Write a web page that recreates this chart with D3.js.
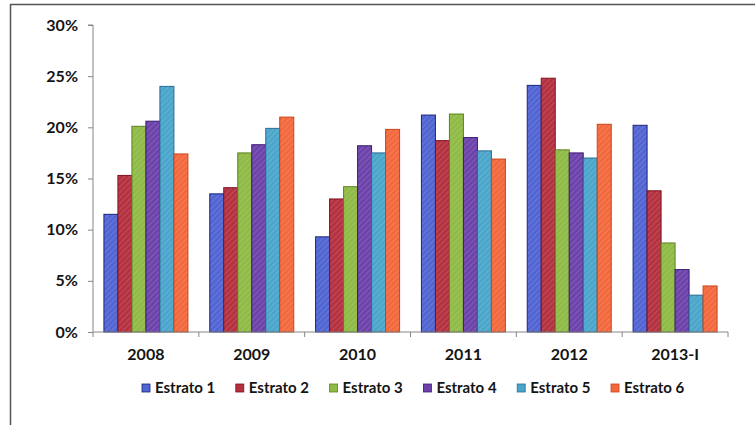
<!DOCTYPE html>
<html>
<head>
<meta charset="utf-8">
<script src="https://cdn.jsdelivr.net/npm/d3@7"></script>
<style>
  body { margin: 0; background: #fff; }
  svg { display: block; font-family: Lato, "Open Sans", sans-serif; font-weight: bold; }
</style>
</head>
<body>
<script>
var width = 755, height = 425;

var years = ["2008", "2009", "2010", "2011", "2012", "2013-I"];
var series = ["Estrato 1", "Estrato 2", "Estrato 3", "Estrato 4", "Estrato 5", "Estrato 6"];
var estrato1 = [11.5, 13.5, 9.3, 21.2, 24.1, 20.2];
var estrato2 = [15.3, 14.1, 13.0, 18.7, 24.8, 13.8];
var estrato3 = [20.1, 17.5, 14.2, 21.3, 17.8, 8.7];
var estrato4 = [20.6, 18.3, 18.2, 19.0, 17.5, 6.1];
var estrato5 = [24.0, 19.9, 17.5, 17.7, 17.0, 3.6];
var estrato6 = [17.4, 21.0, 19.8, 16.9, 20.3, 4.5];
var yTicks = [0, 5, 10, 15, 20, 25, 30];

var values = [estrato1, estrato2, estrato3, estrato4, estrato5, estrato6];
var fills = ["#5064d2", "#b4303f", "#8fba45", "#6c42aa", "#4aa5cb", "#f2683c"];
var strokes = ["#1c2478", "#7c1222", "#5e8020", "#3a1c72", "#2a6c92", "#c8451a"];

var svg = d3.select("body").append("svg")
    .attr("width", width)
    .attr("height", height);

// diagonal hatch like the original fill texture
var defs = svg.append("defs");
fills.forEach(function (c, i) {
    var p = defs.append("pattern")
        .attr("id", "hatch" + i)
        .attr("patternUnits", "userSpaceOnUse")
        .attr("width", 4).attr("height", 4)
        .attr("patternTransform", "rotate(-45)");
    p.append("rect").attr("width", 4).attr("height", 4).attr("fill", c);
    p.append("rect").attr("width", 4).attr("height", 1.3)
        .attr("fill", "#fff").attr("opacity", 0.13);
});

// frame
svg.append("line").attr("x1", 10).attr("x2", width).attr("y1", 4.5).attr("y2", 4.5)
    .attr("stroke", "#555").attr("stroke-width", 1.5);
svg.append("line").attr("x1", 10.5).attr("x2", 10.5).attr("y1", 4).attr("y2", height)
    .attr("stroke", "#555").attr("stroke-width", 1.5);

var margin = {left: 93, right: 27, top: 25, bottom: 93};
var x = d3.scaleBand().domain(years).range([margin.left, width - margin.right]);
var xs = d3.scaleBand().domain(series).range([0, x.bandwidth()])
    .paddingInner(0).paddingOuter(0.78);
var y = d3.scaleLinear().domain([0, 30]).range([height - margin.bottom, margin.top]);

// bars
var g = svg.append("g");
years.forEach(function (yr, gi) {
    series.forEach(function (s, si) {
        var v = values[si][gi];
        g.append("rect")
            .attr("x", x(yr) + xs(s))
            .attr("y", y(v))
            .attr("width", xs.bandwidth())
            .attr("height", y(0) - y(v))
            .attr("fill", "url(#hatch" + si + ")")
            .attr("stroke", strokes[si])
            .attr("stroke-width", 1);
    });
});

// y axis
var yAxis = svg.append("g")
    .attr("transform", "translate(" + margin.left + ",0)")
    .call(d3.axisLeft(y).tickValues(yTicks).tickSize(5).tickPadding(10)
        .tickFormat(function (d) { return d + "%"; }));
yAxis.selectAll("line, path").attr("stroke", "#868686");
yAxis.select(".domain").attr("d", "M-5," + y(30) + "H0V" + y(0));
yAxis.selectAll("text").attr("font-size", 16).attr("fill", "#141414")
    .attr("font-family", "Lato, sans-serif").attr("font-weight", "bold");

// x axis with ticks on category boundaries
var xAxis = svg.append("g").attr("transform", "translate(0," + y(0) + ")");
xAxis.append("line").attr("x1", margin.left).attr("x2", width - margin.right)
    .attr("stroke", "#868686");
var bounds = years.map(function (d) { return x(d); }).concat([x(years[years.length - 1]) + x.bandwidth()]);
xAxis.selectAll(".bt").data(bounds).enter().append("line")
    .attr("x1", function (d) { return d; }).attr("x2", function (d) { return d; })
    .attr("y1", 0).attr("y2", 5).attr("stroke", "#868686");
xAxis.selectAll("text").data(years).enter().append("text")
    .attr("x", function (d) { return x(d) + x.bandwidth() / 2; })
    .attr("y", 28)
    .attr("text-anchor", "middle")
    .attr("font-size", 16)
    .attr("fill", "#141414")
    .text(function (d) { return d; });

// legend
var legend = svg.append("g").attr("transform", "translate(142,388)");
series.forEach(function (s, i) {
    var lg = legend.append("g").attr("transform", "translate(" + (i * 93.8) + ",0)");
    lg.append("rect").attr("x", 0).attr("y", -4).attr("width", 8).attr("height", 8)
        .attr("fill", fills[i]).attr("stroke", strokes[i]).attr("stroke-width", 0.8);
    lg.append("text").attr("x", 13).attr("y", 0).attr("dy", "0.35em")
        .attr("font-size", 15).attr("fill", "#141414").text(s);
});
</script>
</body>
</html>
